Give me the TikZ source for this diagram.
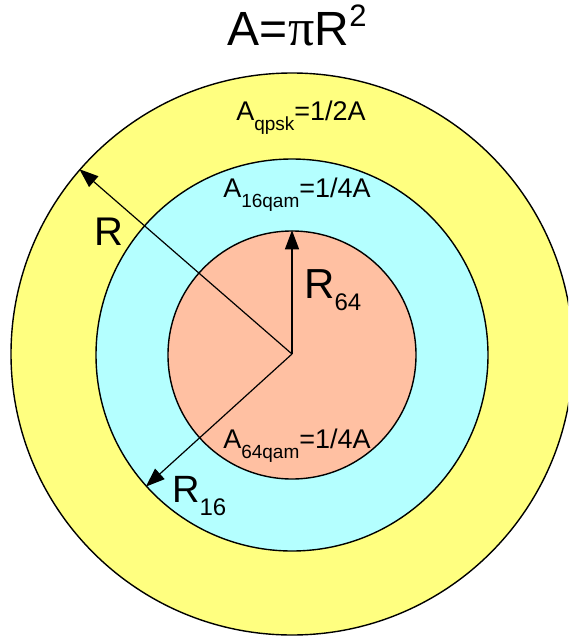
\documentclass[tikz,border=0pt]{standalone}
\usepackage{fontspec}
\setmainfont{Liberation Sans}
\newfontfamily\pifont{Liberation Serif}
\usepackage{tikz}
\usepackage{xcolor}
\usetikzlibrary{arrows.meta}
\definecolor{qpskyellow}{HTML}{FFFF80}
\definecolor{qamcyan}   {HTML}{B4FFFF}
\definecolor{qamsalmon} {HTML}{FFC0A2}
\definecolor{ink}       {HTML}{000000}
\newcommand{\subtxt}[3]{\raisebox{-#1pt}{\fontsize{#2}{#2}\selectfont #3}}
\tikzset{
  ring/.style    ={draw=ink, circle, line width=1.4pt, inner sep=0pt},
  radarr/.style  ={-{Triangle[length=19pt,width=14pt]}, line width=1.2pt, draw=ink},
  arealabel/.style={anchor=base, inner sep=0pt, font=\fontsize{27}{27}\selectfont},
  radlabel/.style ={anchor=base west, inner sep=0pt},
}
\begin{document}
\begin{tikzpicture}[x=1pt,y=-1pt]
        \useasboundingbox (0,0) rectangle (568,637);
        \clip (0,0) rectangle (568,637);

        % circles
        \node[ring,fill=qpskyellow,minimum size=562pt] (outer) at (292,354) {};
        \node[ring,fill=qamcyan,minimum size=392pt] (mid) at (292,355) {};
        \node[ring,fill=qamsalmon,minimum size=248pt] (inner) at (292,355) {};
        \coordinate (ctr) at (292,354);

        % radii
        \draw[radarr] (ctr) -- (outer.139);
        \draw[radarr] (ctr) -- (mid.222);
        \draw[radarr] (ctr) -- (inner.90);

        % title
        \node[anchor=base,inner sep=0pt,font=\fontsize{48}{48}\selectfont] (title) at (297,45)
          {A=\hspace{1pt}{\pifont\fontsize{52}{52}\selectfont π}R\raisebox{18pt}{\fontsize{31}{31}\selectfont 2}};

        % areas
        \node[arealabel] (aqpsk) at (301,120) {A\subtxt{10}{19}{qpsk}=1/2A};
        \node[arealabel] (a16) at (297,197) {A\subtxt{10}{19}{16qam}=1/4A};
        \node[arealabel] (a64) at (297,448) {A\subtxt{10}{19}{64qam}=1/4A};

        % radius names
        \node[radlabel,font=\fontsize{40}{40}\selectfont] (rlab) at (94,245) {R};
        \node[radlabel,font=\fontsize{42}{42}\selectfont] (r64lab) at (304,298) {R\subtxt{12}{24}{64}};
        \node[radlabel,font=\fontsize{38}{38}\selectfont] (r16lab) at (172,502) {R\subtxt{13}{24}{16}};
      \end{tikzpicture}
\end{document}
